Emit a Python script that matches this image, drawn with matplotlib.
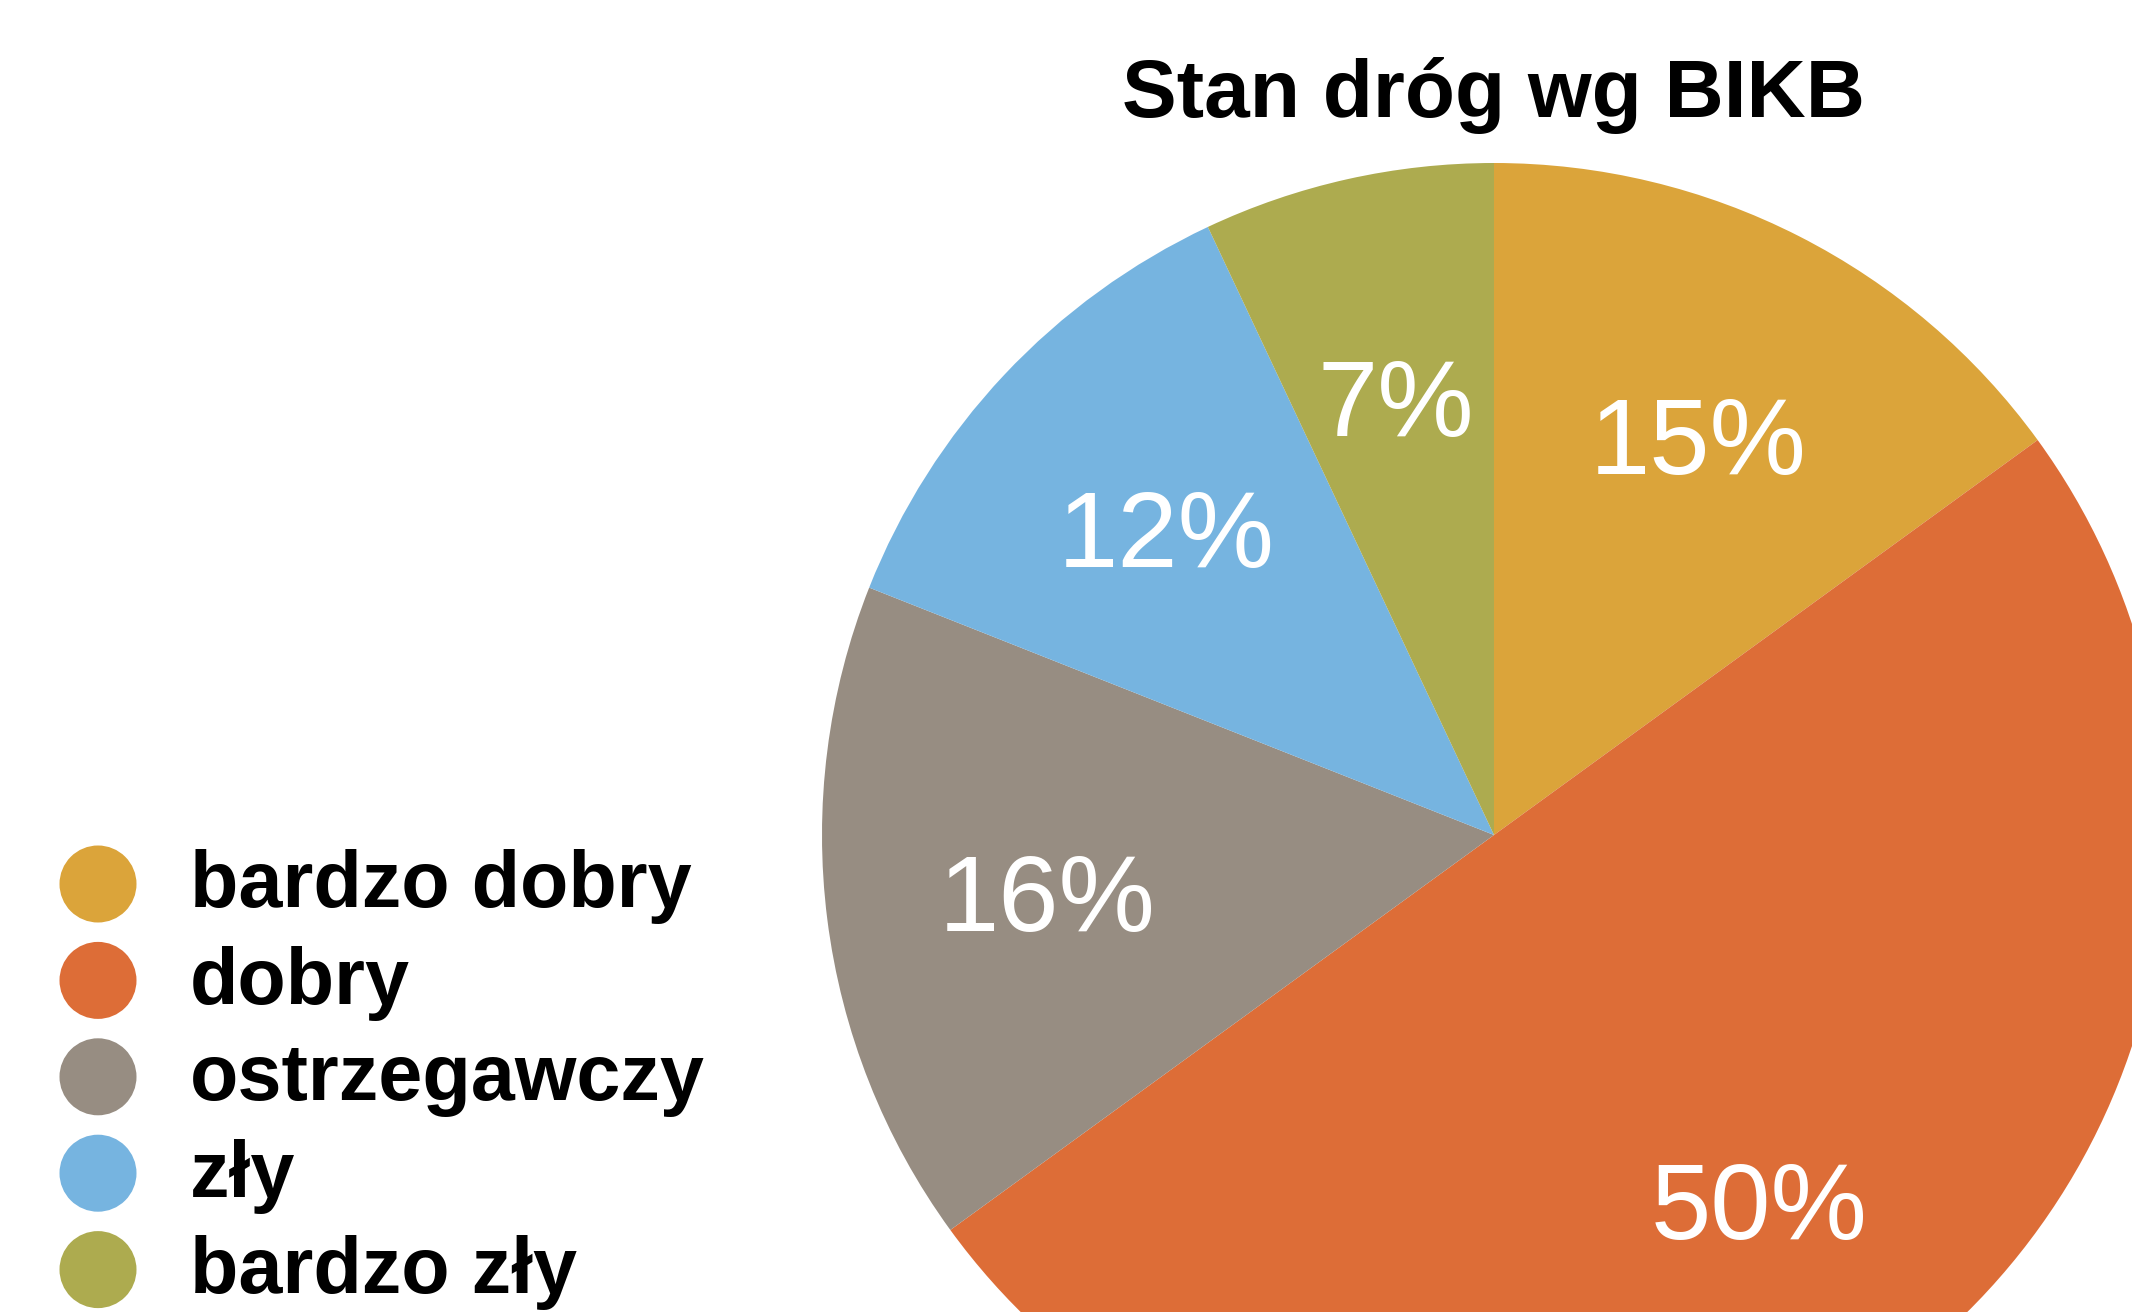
import matplotlib
matplotlib.use("Agg")
import matplotlib.pyplot as plt
from matplotlib.patches import Circle
from matplotlib.transforms import ScaledTranslation

# road condition shares (BIKB classification)
categories = ["bardzo dobry", "dobry", "ostrzegawczy", "zły", "bardzo zły"]
shares = [15, 50, 16, 12, 7]
colors = ["#DBA43A", "#DD6D37", "#978D82", "#76B4E0", "#ADAB4F"]
title = "Stan dróg wg BIKB"

W, H = 2132, 1312
fig = plt.figure(figsize=(W / 100, H / 100), dpi=100)
fig.patch.set_facecolor("white")

# pie centre and radius in pixels; the disc runs off the right and bottom edges
cx, cy, r = 1494, 835, 672
ax = fig.add_axes([(cx - r) / W, (H - cy - r) / H, 2 * r / W, 2 * r / H])
wedges, _, autotexts = ax.pie(
    shares, colors=colors, startangle=90, counterclock=False,
    autopct="%d%%", pctdistance=0.67, radius=1,
    wedgeprops=dict(linewidth=0),
    textprops=dict(color="white", fontsize=78, family="Liberation Sans"),
)
# nudge the percentage labels down a little so the digits sit centred
for t in autotexts:
    t.set_transform(t.get_transform() + ScaledTranslation(0, -0.12, fig.dpi_scale_trans))
ax.set_xlim(-1, 1)
ax.set_ylim(-1, 1)
ax.set_aspect("equal")
ax.axis("off")

fig.text(cx / W, 1 - 95 / H, title, ha="center", va="center",
         fontsize=59, fontweight="bold", family="Liberation Sans")

# legend drawn in pixel space
lax = fig.add_axes([0, 0, 1, 1], zorder=5)
lax.set_xlim(0, W)
lax.set_ylim(H, 0)
lax.axis("off")
y0, step = 884, 96.4
for i, (name, col) in enumerate(zip(categories, colors)):
    y = y0 + i * step
    lax.add_patch(Circle((98, y), 38.5, color=col, lw=0))
    lax.text(190, y + 3, name, ha="left", va="center", fontsize=57,
             fontweight="bold", family="Liberation Sans")

fig.savefig("out.png", dpi=100)
